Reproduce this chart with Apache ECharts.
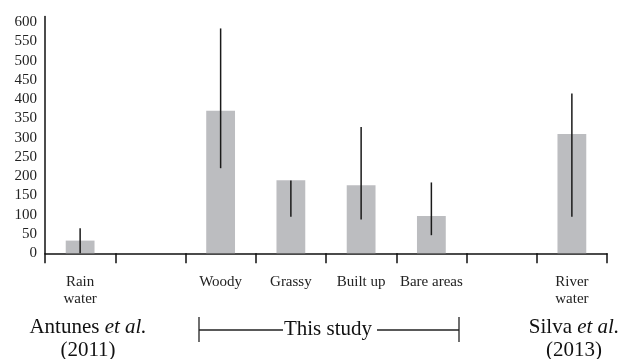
<!DOCTYPE html>
<html><head><meta charset="utf-8">
<script src="https://cdn.jsdelivr.net/npm/echarts@6/dist/echarts.min.js"></script>
<style>html,body{margin:0;padding:0;background:#fff}#c{width:626px;height:359px}</style>
</head><body><div id="c"></div>
<script>
const categories = ['Rain\nwater', '', 'Woody', 'Grassy', 'Built up', 'Bare areas', '', 'River\nwater'];
const means = [33, null, 370, 190, 177, 97, null, 310];
const errLow = [0, null, 221, 95, 88, 47, null, 95];
const errHigh = [65, null, 584, 189, 328, 184, null, 415];
const yTicks = [0, 50, 100, 150, 200, 250, 300, 350, 400, 450, 500, 550, 600];

const FONT = '"Liberation Serif", "DejaVu Serif", serif';
const chart = echarts.init(document.getElementById('c'));
const errData = categories.map((c, i) => errLow[i] == null ? null : [i, errLow[i], errHigh[i]]).filter(d => d);
const rich = { i: { fontStyle: 'italic', fontSize: 21, fontFamily: FONT, fill: '#111' } };

chart.setOption({
  animation: false,
  grid: { left: 45, right: 19, top: 16.5, bottom: 105.7 },
  xAxis: {
    type: 'category', data: categories, boundaryGap: true,
    axisLine: { lineStyle: { color: '#111', width: 1.5 } },
    axisTick: { show: true, length: 10, lineStyle: { color: '#111', width: 1.5 } },
    axisLabel: { interval: 0, margin: 20, color: '#222', fontFamily: FONT, fontSize: 15, lineHeight: 17 }
  },
  yAxis: {
    type: 'value', min: 0, max: 615, interval: 50,
    axisLine: { show: true, lineStyle: { color: '#111', width: 1.5 } },
    axisTick: { show: false }, splitLine: { show: false },
    axisLabel: { color: '#222', fontFamily: FONT, fontSize: 15, margin: 8,
      formatter: v => yTicks.indexOf(v) >= 0 ? String(v) : '' }
  },
  series: [
    { type: 'bar', data: means, barWidth: '41%', itemStyle: { color: '#bcbdc0' } },
    { type: 'custom', data: errData, z: 5,
      renderItem: (params, api) => {
        const lo = api.coord([api.value(0), api.value(1)]);
        const hi = api.coord([api.value(0), api.value(2)]);
        return { type: 'line', shape: { x1: lo[0], y1: lo[1], x2: hi[0], y2: hi[1] },
          style: { stroke: '#1a1a1a', lineWidth: 1.5 } };
      }
    }
  ],
  graphic: [
    { type: 'text', x: 88, y: 316, style: {
        text: 'Antunes {i|et al.}\n(2011)', align: 'center',
        font: '21px ' + FONT, fill: '#111', lineHeight: 23, rich: rich } },
    { type: 'text', x: 574, y: 316, style: {
        text: 'Silva {i|et al.}\n(2013)', align: 'center',
        font: '21px ' + FONT, fill: '#111', lineHeight: 23, rich: rich } },
    { type: 'text', x: 328, y: 329, style: {
        text: 'This study', align: 'center', verticalAlign: 'middle',
        font: '21px ' + FONT, fill: '#111' } },
    { type: 'line', shape: { x1: 199, y1: 330, x2: 283, y2: 330 }, style: { stroke: '#222', lineWidth: 1.3 } },
    { type: 'line', shape: { x1: 377, y1: 330, x2: 459, y2: 330 }, style: { stroke: '#222', lineWidth: 1.3 } },
    { type: 'line', shape: { x1: 199, y1: 317, x2: 199, y2: 342 }, style: { stroke: '#222', lineWidth: 1.3 } },
    { type: 'line', shape: { x1: 459, y1: 317, x2: 459, y2: 342 }, style: { stroke: '#222', lineWidth: 1.3 } }
  ]
});
</script></body></html>
